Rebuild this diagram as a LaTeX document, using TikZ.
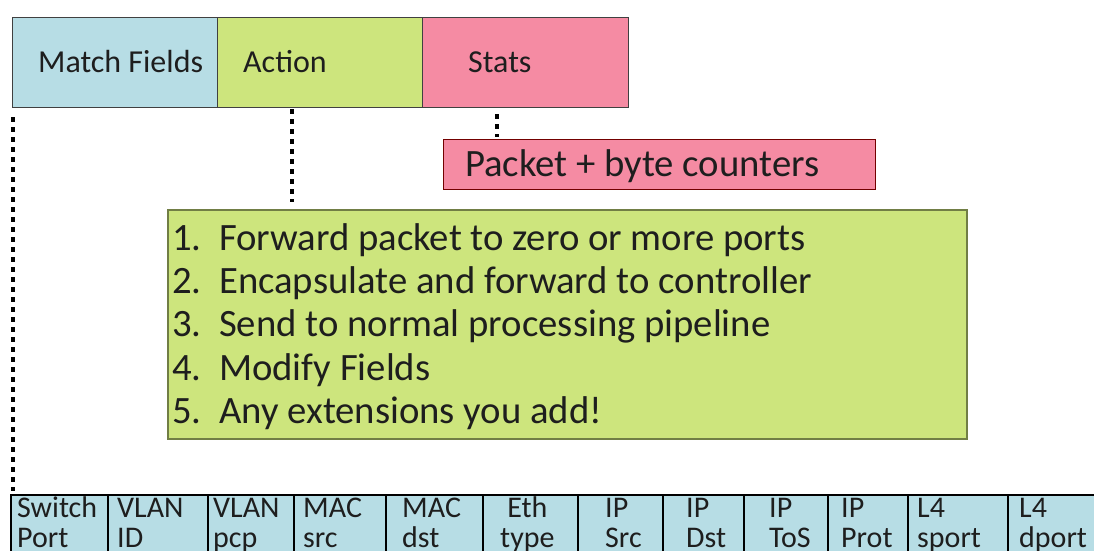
\documentclass[tikz,border=0pt]{standalone}
\usepackage{fontspec}
\setmainfont{Carlito}
\usetikzlibrary{positioning}

\definecolor{fieldblue}{RGB}{183,221,229}
\definecolor{actgreen}{RGB}{205,229,125}
\definecolor{statpink}{RGB}{245,139,163}
\definecolor{inkgrey}{RGB}{30,30,30}

\newcommand{\itemnum}[1]{\makebox[47pt][l]{#1}}

\begin{document}
\begin{tikzpicture}[x=1pt, y=-1pt,
  topbox/.style={draw=black!75, line width=1.2pt, minimum width=205pt, minimum height=90pt, inner sep=0pt, anchor=north west},
  toptext/.style={anchor=base west, inner sep=0pt, text=inkgrey, font=\fontsize{32}{38}\selectfont},
  bigtext/.style={inner sep=0pt, text=inkgrey, font=\fontsize{38.7}{43.4}\selectfont},
  cell/.style={draw=black, line width=2pt, fill=fieldblue, minimum height=80pt, inner sep=0pt, anchor=north west},
  celltext/.style={anchor=north west, inner sep=0pt, text=inkgrey, font=\fontsize{30}{30}\selectfont},
  dotline/.style={line width=4.6pt, dash pattern=on 4.6pt off 5.4pt}]

\useasboundingbox (0,0) rectangle (1094,551);
\clip (0,0) rectangle (1094,551);

% flow table entry
\node[topbox, fill=fieldblue] (match) at (12,17) {};
\node[topbox, fill=actgreen] (action) at (217,17) {};
\node[topbox, fill=statpink, minimum width=206pt] (stats) at (422,17) {};
\node[toptext] (matchlbl) at (38,73) {Match Fields};
\node[toptext] (actionlbl) at (243,73) {Action};
\node[toptext] (statslbl) at (468,73) {Stats};

% stats
\node[draw=red!45!black, line width=1.2pt, fill=statpink, minimum width=432pt, minimum height=50pt, inner sep=0pt, anchor=north west] (counters) at (443,139) {};
\node[bigtext, anchor=base west] (counterslbl) at (465,176) {Packet + byte counters};

% actions
\node[draw=black!45!actgreen, line width=1.5pt, fill=actgreen, minimum width=799pt, minimum height=229pt, inner sep=0pt, anchor=north west] (actions) at (167,209) {};
\node[bigtext, anchor=north west, align=left] (actlist) at (172,219.6) {\strut\itemnum{1.}Forward packet to zero or more ports\\
\itemnum{2.}Encapsulate and forward to controller\\
\itemnum{3.}Send to normal processing pipeline\\
\itemnum{4.}Modify Fields\\
\itemnum{5.}Any extensions you add!};

% header fields
\foreach \l/\r/\t/\a/\txt [count=\i] in {10/107/17/left/Switch\\Port, 107/207/117/left/VLAN\\ID,
  207/293/213/left/VLAN\\pcp, 293/385/303/left/MAC\\src, 385/482/402/left/MAC\\dst,
  482/577/500/center/Eth\\type, 577/662/605/left/IP\\Src, 662/743/686/left/IP\\Dst,
  743/827/769/left/IP\\ToS, 827/907/841/left/IP\\Prot, 907/1007/917/left/L4\\sport,
  1007/1110/1019/left/L4\\dport}
{
  \node[cell, minimum width={\r-\l}] (cell\i) at (\l,494) {};
  \node[celltext, align=\a] (field\i) at (\t,496) {\strut\txt};
}

% dotted links
\draw[dotline, shorten <=9pt, shorten >=3pt] ([xshift=1pt]match.south west) -- ([xshift=1pt]match.south west |- cell1.north);
\draw[dotline, shorten <=1pt, shorten >=7pt] ([xshift=75pt]action.south west) -- ([xshift=75pt]action.south west |- actions.north);
\draw[dotline, shorten <=6pt, shorten >=2pt] ([xshift=75pt]stats.south west) -- ([xshift=75pt]stats.south west |- counters.north);

\end{tikzpicture}
\end{document}
